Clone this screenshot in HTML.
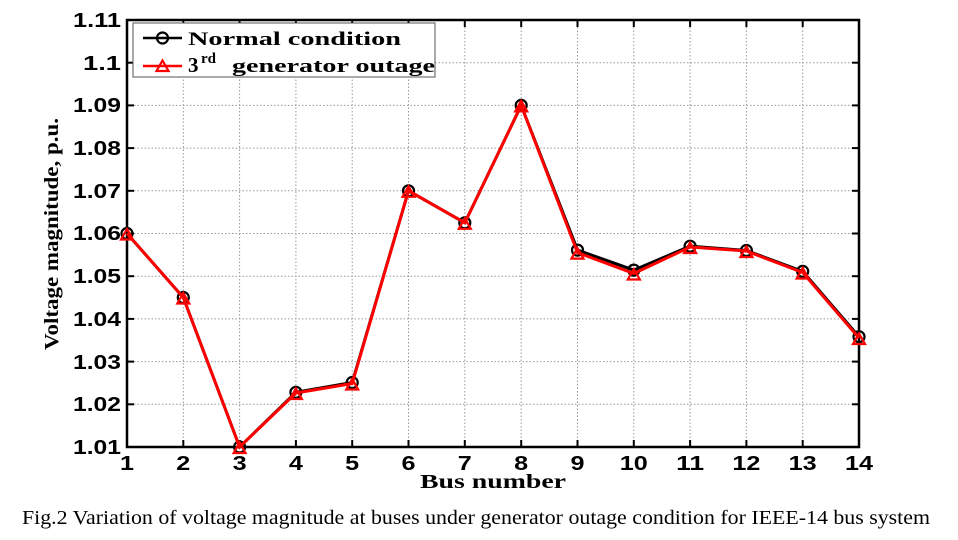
<!DOCTYPE html>
<html><head><meta charset="utf-8"><style>
html,body{margin:0;padding:0;background:#fff;width:958px;height:540px;overflow:hidden}
svg text{font-family:"Liberation Sans",sans-serif;font-weight:bold}
svg text.sf{font-family:"Liberation Serif",serif;font-weight:bold}
svg text.cap{font-family:"Liberation Serif",serif;font-weight:normal}
</style></head><body>
<svg width="958" height="540" viewBox="0 0 958 540" xmlns="http://www.w3.org/2000/svg">
<g stroke="#999" stroke-width="1" stroke-dasharray="1.5,2">
<line x1="183.3" y1="20" x2="183.3" y2="447"/><line x1="239.6" y1="20" x2="239.6" y2="447"/>
<line x1="295.9" y1="20" x2="295.9" y2="447"/><line x1="352.2" y1="20" x2="352.2" y2="447"/>
<line x1="408.5" y1="20" x2="408.5" y2="447"/><line x1="464.8" y1="20" x2="464.8" y2="447"/>
<line x1="521.2" y1="20" x2="521.2" y2="447"/><line x1="577.5" y1="20" x2="577.5" y2="447"/>
<line x1="633.8" y1="20" x2="633.8" y2="447"/><line x1="690.1" y1="20" x2="690.1" y2="447"/>
<line x1="746.4" y1="20" x2="746.4" y2="447"/><line x1="802.7" y1="20" x2="802.7" y2="447"/>
<line x1="127" y1="62.7" x2="859" y2="62.7"/><line x1="127" y1="105.4" x2="859" y2="105.4"/>
<line x1="127" y1="148.1" x2="859" y2="148.1"/><line x1="127" y1="190.8" x2="859" y2="190.8"/>
<line x1="127" y1="233.5" x2="859" y2="233.5"/><line x1="127" y1="276.2" x2="859" y2="276.2"/>
<line x1="127" y1="318.9" x2="859" y2="318.9"/><line x1="127" y1="361.6" x2="859" y2="361.6"/>
<line x1="127" y1="404.3" x2="859" y2="404.3"/>
</g>
<g stroke="#000" stroke-width="2">
<line x1="183.3" y1="447" x2="183.3" y2="440"/><line x1="239.6" y1="447" x2="239.6" y2="440"/>
<line x1="295.9" y1="447" x2="295.9" y2="440"/><line x1="352.2" y1="447" x2="352.2" y2="440"/>
<line x1="408.5" y1="447" x2="408.5" y2="440"/><line x1="464.8" y1="447" x2="464.8" y2="440"/>
<line x1="521.2" y1="447" x2="521.2" y2="440"/><line x1="577.5" y1="447" x2="577.5" y2="440"/>
<line x1="633.8" y1="447" x2="633.8" y2="440"/><line x1="690.1" y1="447" x2="690.1" y2="440"/>
<line x1="746.4" y1="447" x2="746.4" y2="440"/><line x1="802.7" y1="447" x2="802.7" y2="440"/>
<line x1="183.3" y1="20" x2="183.3" y2="27"/><line x1="239.6" y1="20" x2="239.6" y2="27"/>
<line x1="295.9" y1="20" x2="295.9" y2="27"/><line x1="352.2" y1="20" x2="352.2" y2="27"/>
<line x1="408.5" y1="20" x2="408.5" y2="27"/><line x1="464.8" y1="20" x2="464.8" y2="27"/>
<line x1="521.2" y1="20" x2="521.2" y2="27"/><line x1="577.5" y1="20" x2="577.5" y2="27"/>
<line x1="633.8" y1="20" x2="633.8" y2="27"/><line x1="690.1" y1="20" x2="690.1" y2="27"/>
<line x1="746.4" y1="20" x2="746.4" y2="27"/><line x1="802.7" y1="20" x2="802.7" y2="27"/>
<line x1="127" y1="62.7" x2="134" y2="62.7"/><line x1="127" y1="105.4" x2="134" y2="105.4"/>
<line x1="127" y1="148.1" x2="134" y2="148.1"/><line x1="127" y1="190.8" x2="134" y2="190.8"/>
<line x1="127" y1="233.5" x2="134" y2="233.5"/><line x1="127" y1="276.2" x2="134" y2="276.2"/>
<line x1="127" y1="318.9" x2="134" y2="318.9"/><line x1="127" y1="361.6" x2="134" y2="361.6"/>
<line x1="127" y1="404.3" x2="134" y2="404.3"/>
<line x1="859" y1="62.7" x2="852" y2="62.7"/><line x1="859" y1="105.4" x2="852" y2="105.4"/>
<line x1="859" y1="148.1" x2="852" y2="148.1"/><line x1="859" y1="190.8" x2="852" y2="190.8"/>
<line x1="859" y1="233.5" x2="852" y2="233.5"/><line x1="859" y1="276.2" x2="852" y2="276.2"/>
<line x1="859" y1="318.9" x2="852" y2="318.9"/><line x1="859" y1="361.6" x2="852" y2="361.6"/>
<line x1="859" y1="404.3" x2="852" y2="404.3"/>
</g>
<rect x="127" y="20" width="732" height="427" fill="none" stroke="#000" stroke-width="2.5"/>
<g font-size="20" fill="#000">
<text x="73" y="27" textLength="48" lengthAdjust="spacingAndGlyphs">1.11</text>
<text x="83" y="70" textLength="38" lengthAdjust="spacingAndGlyphs">1.1</text>
<text x="73" y="112" textLength="48" lengthAdjust="spacingAndGlyphs">1.09</text>
<text x="73" y="155" textLength="48" lengthAdjust="spacingAndGlyphs">1.08</text>
<text x="73" y="198" textLength="48" lengthAdjust="spacingAndGlyphs">1.07</text>
<text x="73" y="240" textLength="48" lengthAdjust="spacingAndGlyphs">1.06</text>
<text x="73" y="283" textLength="48" lengthAdjust="spacingAndGlyphs">1.05</text>
<text x="73" y="326" textLength="48" lengthAdjust="spacingAndGlyphs">1.04</text>
<text x="73" y="369" textLength="48" lengthAdjust="spacingAndGlyphs">1.03</text>
<text x="73" y="411" textLength="48" lengthAdjust="spacingAndGlyphs">1.02</text>
<text x="73" y="454" textLength="48" lengthAdjust="spacingAndGlyphs">1.01</text>
</g>
<g font-size="20" fill="#000">
<text x="120" y="470" textLength="14" lengthAdjust="spacingAndGlyphs">1</text>
<text x="176.3" y="470" textLength="14" lengthAdjust="spacingAndGlyphs">2</text>
<text x="232.6" y="470" textLength="14" lengthAdjust="spacingAndGlyphs">3</text>
<text x="288.9" y="470" textLength="14" lengthAdjust="spacingAndGlyphs">4</text>
<text x="345.2" y="470" textLength="14" lengthAdjust="spacingAndGlyphs">5</text>
<text x="401.5" y="470" textLength="14" lengthAdjust="spacingAndGlyphs">6</text>
<text x="457.8" y="470" textLength="14" lengthAdjust="spacingAndGlyphs">7</text>
<text x="514.2" y="470" textLength="14" lengthAdjust="spacingAndGlyphs">8</text>
<text x="570.5" y="470" textLength="14" lengthAdjust="spacingAndGlyphs">9</text>
<text x="619.8" y="470" textLength="28" lengthAdjust="spacingAndGlyphs">10</text>
<text x="676.1" y="470" textLength="28" lengthAdjust="spacingAndGlyphs">11</text>
<text x="732.4" y="470" textLength="28" lengthAdjust="spacingAndGlyphs">12</text>
<text x="788.7" y="470" textLength="28" lengthAdjust="spacingAndGlyphs">13</text>
<text x="845" y="470" textLength="28" lengthAdjust="spacingAndGlyphs">14</text>
</g>
<text class="sf" x="420" y="488" font-size="20" textLength="146" lengthAdjust="spacingAndGlyphs">Bus number</text>
<text class="sf" transform="translate(58,350) rotate(-90)" font-size="20" textLength="232" lengthAdjust="spacingAndGlyphs">Voltage magnitude, p.u.</text>
<polyline fill="none" stroke="#000" stroke-width="3" points="127,233.5 183.3,297.5 239.6,447 295.9,392.3 352.2,382.5 408.5,190.8 464.8,222.8 521.2,105.4 577.5,250.1 633.8,270.1 690.1,246.2 746.4,250.5 802.7,271.4 859,336.7"/>
<g fill="none" stroke="#000" stroke-width="2.2">
<circle cx="127" cy="233.5" r="5.5"/><circle cx="183.3" cy="297.5" r="5.5"/><circle cx="239.6" cy="447" r="5.5"/>
<circle cx="295.9" cy="392.3" r="5.5"/><circle cx="352.2" cy="382.5" r="5.5"/><circle cx="408.5" cy="190.8" r="5.5"/>
<circle cx="464.8" cy="222.8" r="5.5"/><circle cx="521.2" cy="105.4" r="5.5"/><circle cx="577.5" cy="250.1" r="5.5"/>
<circle cx="633.8" cy="270.1" r="5.5"/><circle cx="690.1" cy="246.2" r="5.5"/><circle cx="746.4" cy="250.5" r="5.5"/>
<circle cx="802.7" cy="271.4" r="5.5"/><circle cx="859" cy="336.7" r="5.5"/>
</g>
<polyline fill="none" stroke="#f00" stroke-width="3" points="127,233.5 183.3,297.5 239.6,447 295.9,393 352.2,383.5 408.5,190.8 464.8,222.8 521.2,105.4 577.5,252.6 633.8,273.5 690.1,247 746.4,251 802.7,272.5 859,338"/>
<g fill="none" stroke="#f00" stroke-width="2.2">
<path d="M121,239.5 L127,229 L133,239.5Z"/>
<path d="M121,239.5 L127,229 L133,239.5Z" transform="translate(56.3,64)"/>
<path d="M121,239.5 L127,229 L133,239.5Z" transform="translate(112.6,213.5)"/>
<path d="M121,239.5 L127,229 L133,239.5Z" transform="translate(168.9,159.5)"/>
<path d="M121,239.5 L127,229 L133,239.5Z" transform="translate(225.2,150)"/>
<path d="M121,239.5 L127,229 L133,239.5Z" transform="translate(281.5,-42.7)"/>
<path d="M121,239.5 L127,229 L133,239.5Z" transform="translate(337.8,-10.7)"/>
<path d="M121,239.5 L127,229 L133,239.5Z" transform="translate(394.2,-128.1)"/>
<path d="M121,239.5 L127,229 L133,239.5Z" transform="translate(450.5,19.1)"/>
<path d="M121,239.5 L127,229 L133,239.5Z" transform="translate(506.8,40)"/>
<path d="M121,239.5 L127,229 L133,239.5Z" transform="translate(563.1,13.5)"/>
<path d="M121,239.5 L127,229 L133,239.5Z" transform="translate(619.4,17.5)"/>
<path d="M121,239.5 L127,229 L133,239.5Z" transform="translate(675.7,39)"/>
<path d="M121,239.5 L127,229 L133,239.5Z" transform="translate(732,104.5)"/>
</g>
<rect x="133" y="23" width="302" height="54" fill="#fff" stroke="#555" stroke-width="1"/>
<line x1="143" y1="38" x2="182" y2="38" stroke="#000" stroke-width="2.5"/>
<circle cx="162.5" cy="38" r="5.5" fill="none" stroke="#000" stroke-width="2.2"/>
<line x1="143" y1="66" x2="182" y2="66" stroke="#f00" stroke-width="2.5"/>
<path d="M156.5,71 L162.5,60.5 L168.5,71Z" fill="none" stroke="#f00" stroke-width="2.2"/>
<text class="sf" x="188" y="45" font-size="19" textLength="213" lengthAdjust="spacingAndGlyphs">Normal condition</text>
<text class="sf" x="188" y="72" font-size="21">3</text>
<text class="sf" x="201" y="63" font-size="15">rd</text>
<text class="sf" x="232" y="72" font-size="19" textLength="203" lengthAdjust="spacingAndGlyphs">generator outage</text>
<text class="cap" x="22" y="524" font-size="20" textLength="908" lengthAdjust="spacingAndGlyphs">Fig.2 Variation of voltage magnitude at buses under generator outage condition for IEEE-14 bus system</text>
</svg>
</body></html>
